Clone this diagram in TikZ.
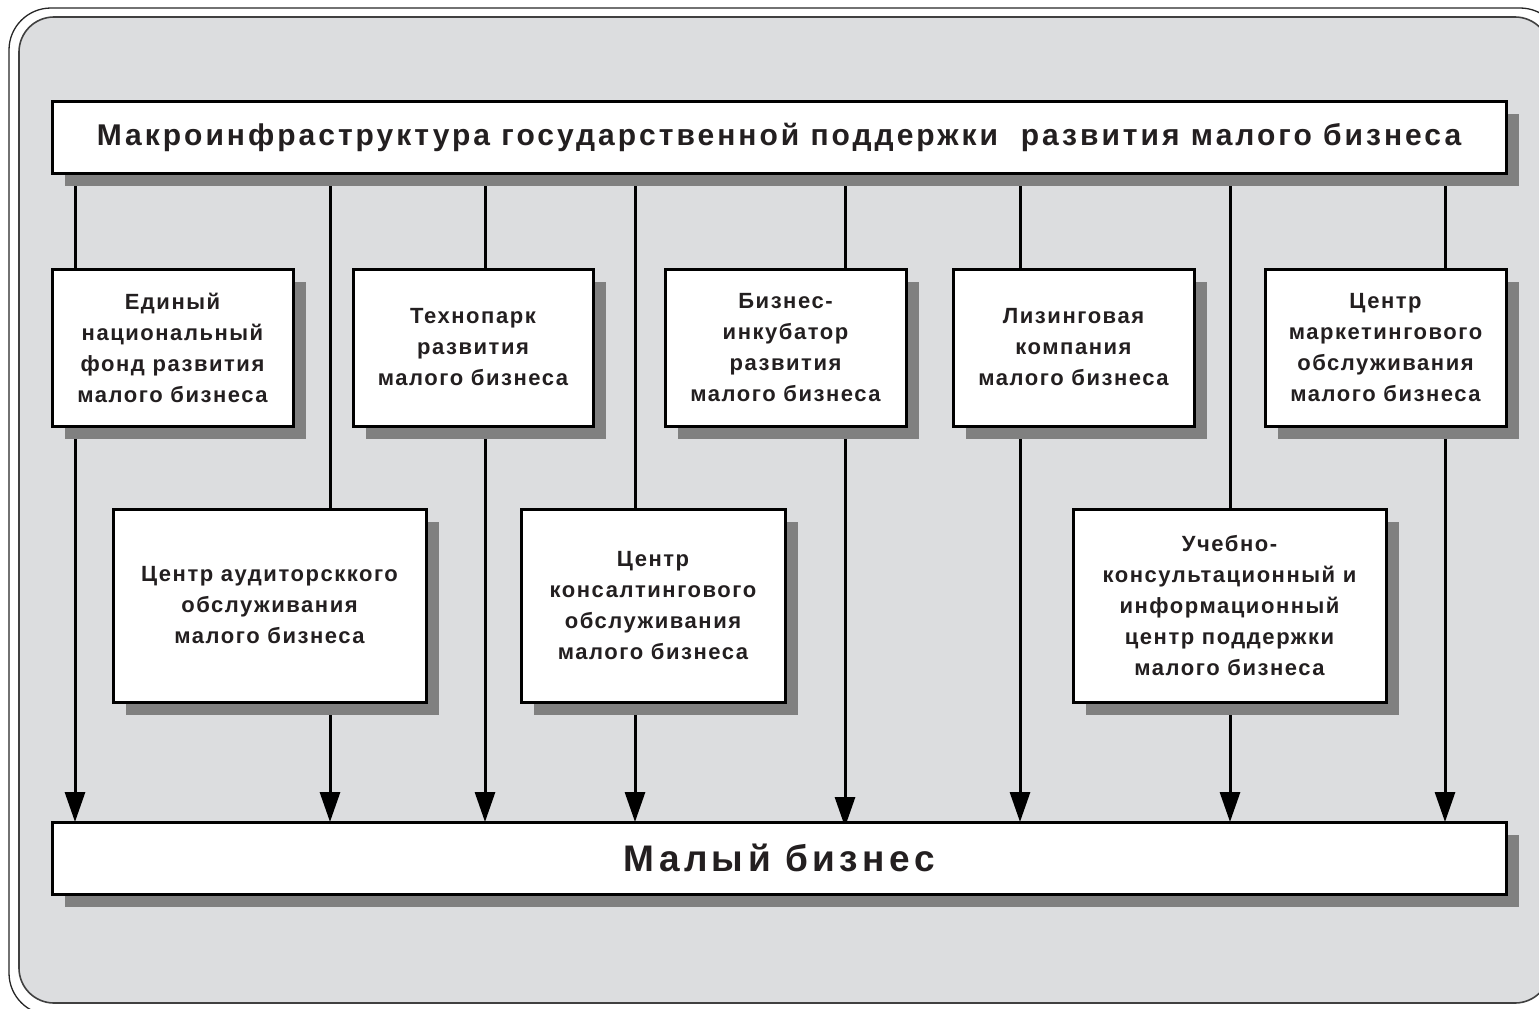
\documentclass[tikz,border=0pt]{standalone}
\usepackage{fontspec}
\setmainfont{Liberation Sans}
\newfontfamily\boxfont[LetterSpace=7]{Liberation Sans}
\newfontfamily\titlefont[LetterSpace=10]{Liberation Sans}
\newfontfamily\bottomfont[LetterSpace=12]{Liberation Sans}
\usetikzlibrary{arrows.meta,shadows}
\definecolor{bggray}{HTML}{DCDDDF}
\definecolor{shgray}{HTML}{808080}
\definecolor{txt}{HTML}{231F20}
\begin{document}
\begin{tikzpicture}[x=1pt,y=-1pt,
  box/.style={draw=black,line width=3pt,fill=white,inner sep=0pt,outer sep=0pt,
    align=center,text=txt,font=\boxfont\bfseries\fontsize{22}{31}\selectfont,
    drop shadow={shadow xshift=13pt,shadow yshift=-13pt,fill=shgray,opacity=1}},
  arr/.style={line width=3pt,-{Triangle[length=30pt,width=20pt]}},
  ph/.style={inner sep=0pt,outer sep=0pt}]
\useasboundingbox (0,0) rectangle (1539,1009);
\begin{scope}
\clip (0,0) rectangle (1539,1009);
\draw[line width=1.3pt,draw=black!85,rounded corners=42pt] (9,8) rectangle (1562,1015);
\draw[line width=1.6pt,draw=black!75,fill=bggray,rounded corners=35pt] (19,17) rectangle (1550,1003);
\end{scope}
% column coordinates
\coordinate (c1) at (75,0);
\coordinate (c2) at (330,0);
\coordinate (c3) at (485,0);
\coordinate (c4) at (635,0);
\coordinate (c5) at (845,0);
\coordinate (c6) at (1020,0);
\coordinate (c7) at (1230,0);
\coordinate (c8) at (1445,0);
% placeholders for top/bottom so connectors are drawn beneath the boxes
\path (779,137) node[ph,minimum width=1454pt,minimum height=72pt] (topph) {};
\path (779,858) node[ph,minimum width=1454pt,minimum height=72pt] (botph) {};
\foreach \c in {c1,c2,c3,c4,c6,c7,c8}{
  \draw[arr] (topph.south -| \c) -- (botph.north -| \c);
}
\draw[arr,shorten >=-5pt] (topph.south -| c5) -- (botph.north -| c5);
% boxes
\node[box,minimum width=1454pt,minimum height=72pt,font=\titlefont\bfseries\fontsize{30}{34}\selectfont] (top) at (779,137)
  {\raisebox{-3pt}{Макроинфраструктура государственной поддержки\ \ развития малого бизнеса}};
\node[box,minimum width=1454pt,minimum height=72pt,font=\bottomfont\bfseries\fontsize{37}{40}\selectfont] (bot) at (779,858) {Малый бизнес};
\node[box,minimum width=241pt,minimum height=157pt] (b1) at (172.5,347.5)
  {Единый\\национальный\\фонд развития\\малого бизнеса};
\node[box,minimum width=240pt,minimum height=157pt] (b2) at (473,347.5)
  {Технопарк\\развития\\малого бизнеса};
\node[box,minimum width=241pt,minimum height=157pt] (b3) at (785.5,347.5)
  {Бизнес-\\инкубатор\\развития\\малого бизнеса};
\node[box,minimum width=241pt,minimum height=157pt] (b4) at (1073.5,347.5)
  {Лизинговая\\компания\\малого бизнеса};
\node[box,minimum width=241pt,minimum height=157pt] (b5) at (1385.5,347.5)
  {Центр\\маркетингового\\обслуживания\\малого бизнеса};
\node[box,minimum width=313pt,minimum height=193pt] (m1) at (269.5,605.5)
  {Центр аудиторсккого\\обслуживания\\малого бизнеса};
\node[box,minimum width=264pt,minimum height=193pt] (m2) at (653,605.5)
  {Центр\\консалтингового\\обслуживания\\малого бизнеса};
\node[box,minimum width=313pt,minimum height=193pt] (m3) at (1229.5,605.5)
  {Учебно-\\консультационный и\\информационный\\центр поддержки\\малого бизнеса};
\end{tikzpicture}
\end{document}
